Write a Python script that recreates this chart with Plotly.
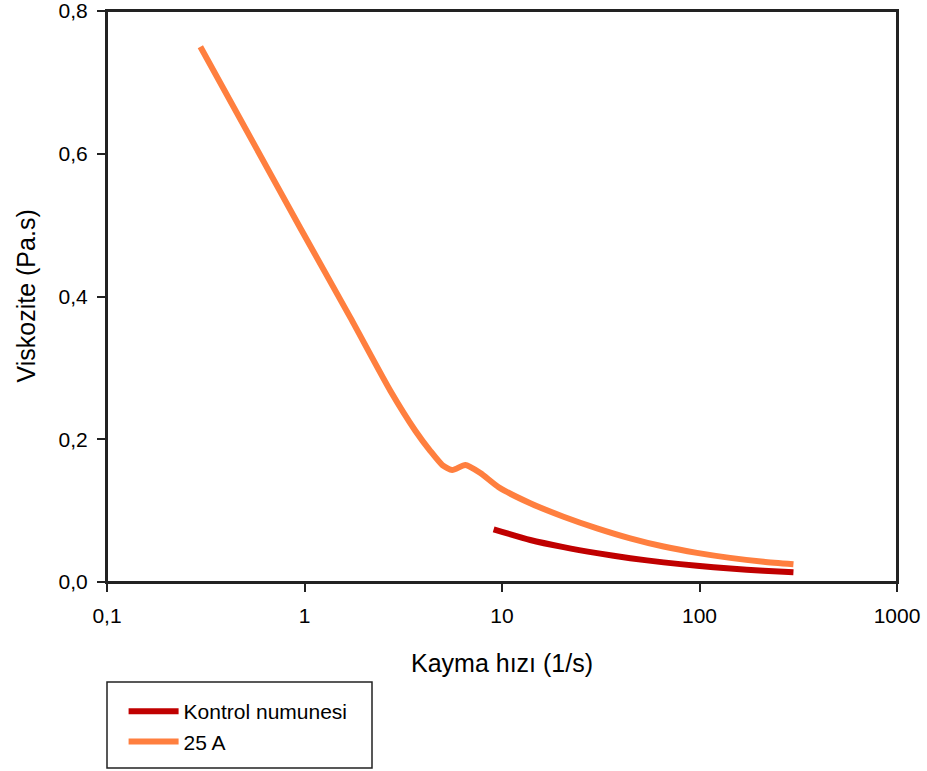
import plotly.graph_objects as go

# Shear rate (1/s) and viscosity (Pa.s) for each sample
kontrol_rate = [9.07, 13.9, 20.5, 30.3, 44.6, 65.8, 97.1, 143.0, 211.0, 299.0]
kontrol_visc = [0.0738, 0.0588, 0.0488, 0.0404, 0.0333, 0.0275, 0.0227, 0.0189, 0.0158, 0.0136]

a25_rate = [0.297, 0.544, 0.952, 1.71, 2.72, 3.64, 4.34, 4.99, 5.60, 6.52, 7.77,
            9.58, 13.9, 20.5, 30.3, 44.6, 65.8, 97.1, 143.0, 211.0, 299.0]
a25_visc = [0.750, 0.618, 0.496, 0.370, 0.268, 0.212, 0.1835, 0.1639, 0.1569, 0.1639, 0.1527,
            0.1331, 0.1103, 0.0915, 0.0752, 0.0612, 0.0497, 0.0408, 0.0338, 0.0284, 0.0248]

x_tickvals = [0.1, 1, 10, 100, 1000]
x_ticktext = ["0,1", "1", "10", "100", "1000"]
y_tickvals = [0.0, 0.2, 0.4, 0.6, 0.8]
y_ticktext = ["0,0", "0,2", "0,4", "0,6", "0,8"]

RED = "#C00000"
ORANGE = "#FF7F3F"
AXIS = "#222222"
FONT = "Liberation Sans, Arial, sans-serif"

fig = go.Figure()
fig.add_trace(go.Scatter(
    x=kontrol_rate, y=kontrol_visc, mode="lines", name="Kontrol numunesi",
    line=dict(color=RED, width=6, shape="spline", smoothing=0.6),
))
fig.add_trace(go.Scatter(
    x=a25_rate, y=a25_visc, mode="lines", name="25 A",
    line=dict(color=ORANGE, width=6, shape="spline", smoothing=0.6),
))

fig.update_layout(
    width=927, height=771,
    margin=dict(l=107, r=30, t=11, b=189, autoexpand=False),
    paper_bgcolor="white", plot_bgcolor="white",
    font=dict(family=FONT, size=21, color="black"),
    showlegend=True,
    legend=dict(
        x=0.021, y=-0.191, xanchor="left", yanchor="top",
        bgcolor="rgba(0,0,0,0)", borderwidth=0, itemwidth=50,
        font=dict(family=FONT, size=21, color="black"),
        tracegroupgap=0,
    ),
    xaxis=dict(
        type="log", range=[-1, 3],
        tickvals=x_tickvals, ticktext=x_ticktext,
        ticks="outside", ticklen=8, tickwidth=1.5, tickcolor=AXIS,
        ticklabelstandoff=6, ticklabeloverflow="allow",
        showline=True, linecolor=AXIS, linewidth=2, mirror=True,
        showgrid=False, zeroline=False,
        tickfont=dict(family=FONT, size=21, color="black"),
    ),
    yaxis=dict(
        range=[0, 0.8],
        tickvals=y_tickvals, ticktext=y_ticktext,
        ticks="outside", ticklen=8, tickwidth=1.5, tickcolor=AXIS,
        ticklabelstandoff=5, ticklabeloverflow="allow",
        showline=True, linecolor=AXIS, linewidth=2, mirror=True,
        showgrid=False, zeroline=False,
        tickfont=dict(family=FONT, size=21, color="black"),
    ),
    annotations=[
        dict(text="Kayma hızı (1/s)", xref="paper", yref="paper",
             x=0.5, y=0, yshift=-81, xanchor="center", yanchor="middle",
             showarrow=False, font=dict(family=FONT, size=25, color="black")),
        dict(text="Viskozite (Pa.s)", xref="paper", yref="paper",
             x=0, y=0.5, xshift=-82, xanchor="center", yanchor="middle",
             textangle=-90, showarrow=False,
             font=dict(family=FONT, size=25, color="black")),
    ],
    shapes=[
        # plot frame (top and right edges included)
        dict(type="rect", xref="paper", yref="paper", x0=0, x1=1, y0=0, y1=1,
             line=dict(color=AXIS, width=2), fillcolor="rgba(0,0,0,0)", layer="above"),
        # frame around the legend
        dict(type="rect", xref="paper", yref="paper",
             x0=0.0, x1=(372 - 107) / 790, y0=-100 / 571, y1=-186 / 571,
             line=dict(color=AXIS, width=1.5), fillcolor="rgba(0,0,0,0)"),
    ],
)

fig.write_html("out.html")
